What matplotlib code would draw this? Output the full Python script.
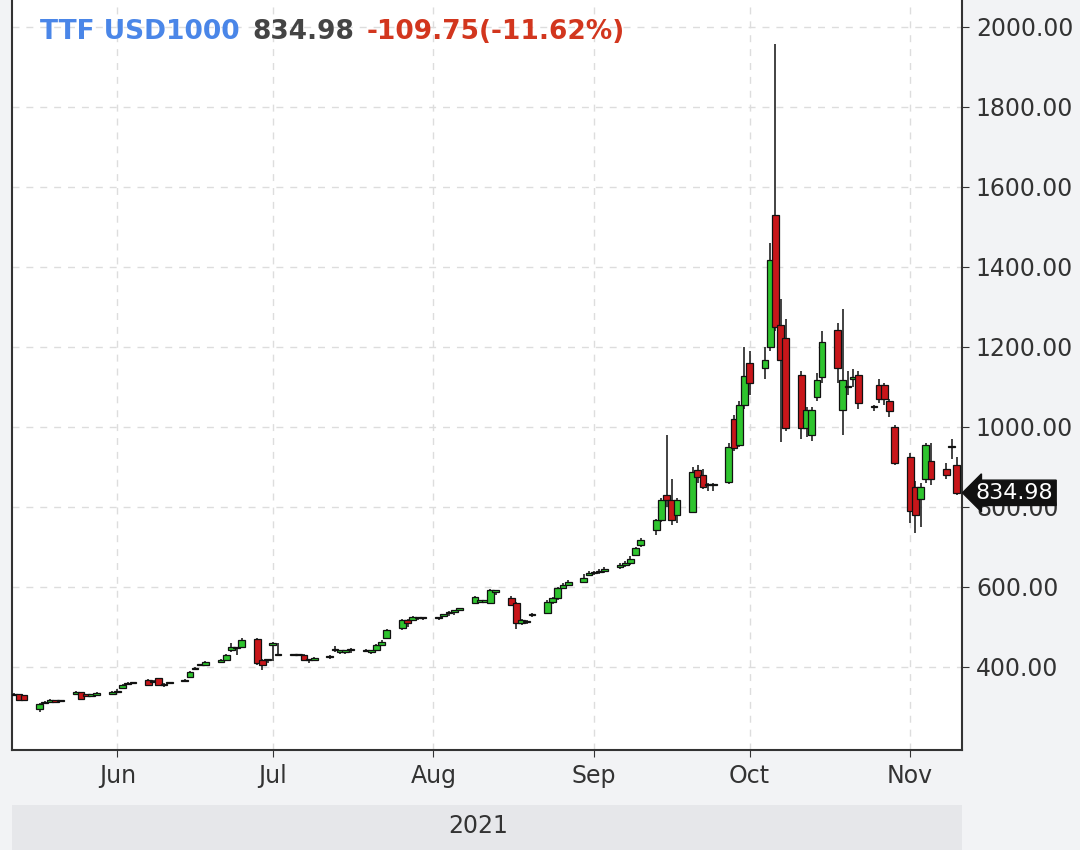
import matplotlib
matplotlib.use("Agg")
import matplotlib.pyplot as plt
import matplotlib.dates as mdates
import pandas as pd
import numpy as np

# OHLC (TTF USD1000)
opens = [330,330,331,330,332,330,295,310,312,314,315,333,336,333,328,330,333,337,346,357,360,367,362,371,
         357,360,365,375,394,404,405,412,417,442,446,450,469,417,417,455,430,430,430,430,417,417,425,
         442,438,438,442,440,438,442,455,471,496,517,517,521,521,521,528,534,538,542,559,563,
         563,559,588,571,559,509,512,530,534,563,571,596,605,613,630,634,636,640,650,655,660,
         680,705,742,767,830,817,780,787,892,880,855,855,862,1020,955,1055,1160,1147,1200,1530,
         1255,1222,1130,997,980,1075,1125,1242,1042,1100,1120,1130,1050,1105,1105,1065,1000,925,
         850,820,870,915,895,950,905]
closes = [330,328,329,333,317,317,308,312,317,313,315,338,320,328,330,335,337,338,355,359,360,355,363,355,
          355,360,367,388,396,405,412,417,430,450,446,467,409,405,417,459,430,430,430,417,417,422,425,
          442,438,438,442,440,438,455,463,492,517,509,525,521,521,521,528,534,538,546,575,563,
          563,592,588,555,509,517,512,530,563,571,596,605,613,621,634,636,640,645,655,660,670,
          697,717,767,817,817,767,817,887,875,850,855,855,950,947,1055,1127,1110,1167,1417,1250,
          1167,997,997,1042,1042,1117,1212,1147,1117,1100,1125,1060,1050,1070,1070,1040,910,790,
          780,850,955,870,880,950,834.98]
highs = [333,332,333,335,332,319,310,314,319,316,318,340,335,332,332,337,339,345,358,362,363,370,366,373,
         359,363,370,390,399,408,415,419,433,460,449,472,472,420,420,462,460,433,433,432,420,425,430,
         452,441,441,446,444,442,458,466,495,520,519,527,524,525,525,532,540,542,548,578,566,
         566,595,592,578,562,520,516,535,566,575,599,610,618,632,640,640,645,650,660,665,676,
         700,722,770,822,980,870,822,900,905,895,860,860,960,1030,1065,1200,1190,1200,1460,1957,
         1320,1270,1140,1050,1050,1135,1240,1260,1295,1140,1145,1140,1055,1120,1110,1070,1005,935,
         865,860,960,960,910,970,925]
lows = [327,326,327,330,315,315,288,306,309,311,312,334,318,326,326,331,335,335,344,355,357,352,360,352,
        350,356,362,372,391,402,403,409,415,438,430,448,404,392,410,415,427,427,427,414,410,415,420,
        436,432,432,435,436,432,440,452,469,493,500,514,517,516,516,524,528,530,540,557,560,
        560,556,580,552,495,504,508,525,531,556,568,600,608,618,628,630,632,635,645,650,655,
        676,700,730,762,800,755,760,785,860,845,840,840,858,940,950,1045,1080,1120,1190,1240,
        962,990,970,975,965,1065,1110,1110,980,1080,1100,1045,1040,1060,1055,1025,905,760,
        735,750,860,855,870,920,830]

n = len(opens)
dates = pd.bdate_range(end="2021-11-10", periods=n)
x = mdates.date2num(dates.to_pydatetime())

fig = plt.figure(figsize=(10.8, 8.5), dpi=100, facecolor="#f2f3f5")
ax = fig.add_axes([12/1080, 1-750/850, 950/1080, 750/850])
ax.set_facecolor("white")

green, red = "#2ec42e", "#c8161a"
w = 1.3
for xi, o, c, h, l in zip(x, opens, closes, highs, lows):
    ax.vlines(xi, l, h, color="#222222", lw=1.2, zorder=2)
    lo, hi = min(o, c), max(o, c)
    hgt = max(hi - lo, 3)
    ax.add_patch(plt.Rectangle((xi - w/2, lo), w, hgt, facecolor=green if c >= o else red,
                               edgecolor="#111111", lw=0.9, zorder=3))

ax.set_xlim(mdates.date2num(pd.Timestamp("2021-05-11 16:00")), mdates.date2num(pd.Timestamp("2021-11-11")))
ax.set_ylim(192, 2067)
ax.yaxis.tick_right()
ax.set_yticks([400, 600, 800, 1000, 1200, 1400, 1600, 1800, 2000])
ax.set_yticklabels([f"{v:.2f}" for v in ax.get_yticks()], fontsize=17, color="#333333")
ax.xaxis.set_major_locator(mdates.MonthLocator())
ax.xaxis.set_major_formatter(mdates.DateFormatter("%b"))
for lab in ax.get_xticklabels():
    lab.set_fontsize(17); lab.set_color("#333333")
ax.tick_params(axis="both", length=5, color="#333333", pad=5)
ax.grid(True, ls=(0, (5, 5)), color="#dddddd", lw=1)
ax.spines["top"].set_visible(False)
for s in ["left", "right", "bottom"]:
    ax.spines[s].set_color("#333333"); ax.spines[s].set_linewidth(1.5)

# title pieces
fig.text(40/1080, 1-32/850, "TTF USD1000", color="#4a86e8", fontsize=19, fontweight="bold", va="center")
fig.text(252/1080, 1-32/850, "834.98", color="#444444", fontsize=19, fontweight="bold", va="center")
fig.text(367/1080, 1-32/850, "-109.75(-11.62%)", color="#d2361e", fontsize=19, fontweight="bold", va="center")

# last price tag
last = closes[-1]
ax.annotate("834.98", xy=(1.0, last), xycoords=("axes fraction", "data"), xytext=(10, 0),
            textcoords="offset points", fontsize=16, color="white", va="center", ha="left",
            bbox=dict(boxstyle="larrow,pad=0.12", fc="#111111", ec="#111111"), zorder=10,
            annotation_clip=False)

# year band
fig.patches.append(plt.Rectangle((12/1080, 0), 950/1080, 45/850, transform=fig.transFigure,
                                 facecolor="#e6e7ea", edgecolor="none"))
fig.text(478/1080, 1-826/850, "2021", fontsize=17, color="#333333", ha="center", va="center")

fig.savefig("out.png", dpi=100, facecolor=fig.get_facecolor())
